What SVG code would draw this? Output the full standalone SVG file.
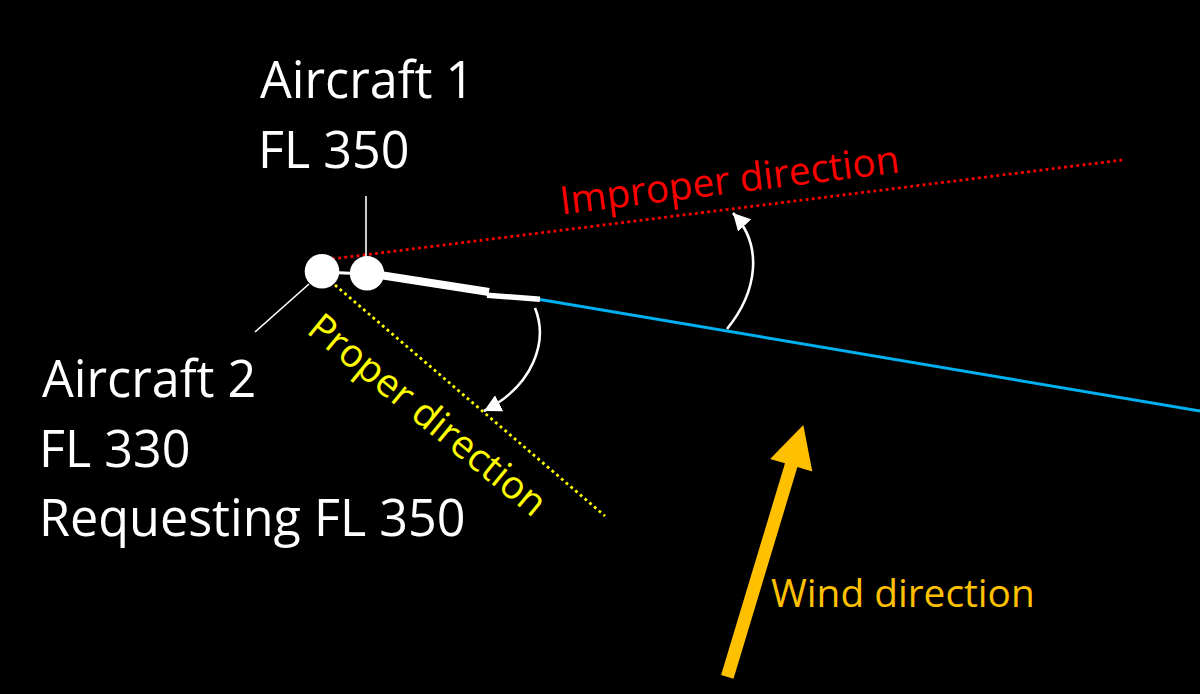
<svg xmlns="http://www.w3.org/2000/svg" width="1200" height="694" viewBox="0 0 1200 694">
<style>
.big{font-family:"Open Sans","Noto Sans","Liberation Sans",sans-serif;font-size:50.3px;fill:#FFFFFF}
.small{font-family:"Open Sans","Noto Sans","Liberation Sans",sans-serif;font-size:38.8px}
.leader{stroke:#FFFFFF;stroke-width:1.6;fill:none}
.turn{stroke:#FFFFFF;stroke-width:2.6;fill:none}
.dot{stroke-width:2.8;stroke-dasharray:2.8 3.4;fill:none}
</style>
<defs>
<marker id="ah" markerUnits="userSpaceOnUse" markerWidth="18" markerHeight="18" viewBox="0 0 18 18" refX="17" refY="9" orient="auto">
<path d="M0,0 L17,9 L0,18 Z" fill="#FFFFFF"/>
</marker>
</defs>
<rect width="1200" height="694" fill="#000000"/>
<g id="connectors">
<line x1="540" y1="299.5" x2="1200" y2="411" stroke="#00B0F0" stroke-width="3"/>
<line class="dot" x1="332" y1="259" x2="1122" y2="160" stroke="#FF0000"/>
<line class="dot" x1="335" y1="285" x2="605" y2="516" stroke="#FFFF00"/>
<line class="leader" x1="366" y1="196" x2="366" y2="257"/>
<line class="leader" x1="255" y1="332" x2="309" y2="284"/>
<path class="turn" d="M535,308 C548,340 535,385 484,411" marker-end="url(#ah)"/>
<path class="turn" d="M727,329 C757,292 764,246 733,213" marker-end="url(#ah)"/>
<line x1="322" y1="272" x2="367" y2="274" stroke="#FFFFFF" stroke-width="3"/>
<line x1="367" y1="273" x2="489" y2="292" stroke="#FFFFFF" stroke-width="8"/>
<line x1="487" y1="295.2" x2="540" y2="299.3" stroke="#FFFFFF" stroke-width="5.5"/>
</g>
<g id="aircraft2">
<circle cx="322" cy="271.3" r="17.3" fill="#FFFFFF"/>
</g>
<g id="aircraft1">
<circle cx="367" cy="273.3" r="17.2" fill="#FFFFFF"/>
</g>
<g id="aircraft1-label">
<text class="big" x="260" y="98">Aircraft 1</text>
<text class="big" x="258" y="168">FL 350</text>
</g>
<g id="aircraft2-label">
<text class="big" x="42" y="397">Aircraft 2</text>
<text class="big" x="39" y="467">FL 330</text>
<text class="big" x="39" y="536">Requesting FL 350</text>
</g>
<g id="improper-label">
<text class="small" x="561.5" y="214.5" fill="#FF0000" transform="rotate(-7.1 561.5 214.5)">Improper direction</text>
</g>
<g id="proper-label">
<text class="small" x="305.3" y="331.9" fill="#FFFF00" transform="rotate(39.3 305.3 331.9)">Proper direction</text>
</g>
<g id="wind">
<polygon points="803.3,425 812.3,471.6 797.4,467.1 733.5,678.7 721.1,674.9 785,463.3 770.1,458.9" fill="#FFC000"/>
<text class="small" x="771" y="607" fill="#FFC000">Wind direction</text>
</g>
</svg>
